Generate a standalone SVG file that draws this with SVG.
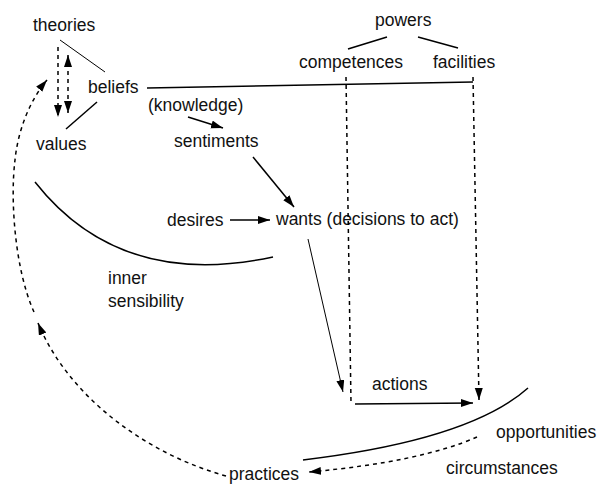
<svg xmlns="http://www.w3.org/2000/svg" width="599" height="484" viewBox="0 0 599 484">
<defs>
<marker id="ah" markerUnits="userSpaceOnUse" markerWidth="13" markerHeight="9" refX="12" refY="4" orient="auto-start-reverse">
<path d="M0,0 L12,4 L0,8 z" fill="#000"/>
</marker>
<style>
text{font-family:"Liberation Sans",Arial,sans-serif;font-size:17.5px;fill:#111}
.l{fill:none;stroke:#000;stroke-width:1.5}
.t{fill:none;stroke:#000;stroke-width:1}
.d{fill:none;stroke:#000;stroke-width:1.5;stroke-dasharray:4 4}
.a{marker-end:url(#ah)}
</style>
</defs>
<rect width="599" height="484" fill="#fff"/>
<g id="theories"><text x="33" y="31">theories</text></g>
<g id="beliefs"><text x="88" y="93">beliefs</text></g>
<g id="values"><text x="36" y="150">values</text></g>
<g id="knowledge"><text x="148" y="111">(knowledge)</text></g>
<g id="sentiments"><text x="174" y="147">sentiments</text></g>
<g id="powers"><text x="375" y="26">powers</text></g>
<g id="competences"><text x="299" y="68">competences</text></g>
<g id="facilities"><text x="433" y="68">facilities</text></g>
<g id="desires"><text x="167" y="226">desires</text></g>
<g id="wants"><text x="276" y="225">wants (decisions to act)</text></g>
<g id="inner-sensibility"><text x="108" y="284">inner</text><text x="108" y="307">sensibility</text></g>
<g id="actions"><text x="372" y="390">actions</text></g>
<g id="opportunities"><text x="496" y="438">opportunities</text></g>
<g id="circumstances"><text x="446" y="474">circumstances</text></g>
<g id="practices"><text x="229" y="480">practices</text></g>
<g id="connectors">
<path class="t" d="M60,40 L105,72"/>
<path class="l" d="M97,102 L66,129"/>
<path class="d a" d="M58,47 L58,117"/>
<path class="d a" d="M68,55 L68,113" marker-start="url(#ah)"/>
<path class="l" d="M348,49 L387,37"/>
<path class="l" d="M418,37 L458,48"/>
<path class="l" d="M147,88 L473,82"/>
<path class="d" d="M346,77 L351,403"/>
<path class="d a" d="M473,77 L479,400"/>
<path class="l a" d="M188,117 L223,128"/>
<path class="l a" d="M253,157 L294,207"/>
<path class="l a" d="M230,220 L270,220"/>
<path class="t a" d="M308,239 L343,392"/>
<path class="l a" d="M355,404 L473,403"/>
<path class="l" d="M35,182 Q120,290 273,257"/>
<path class="l" d="M303,460 Q470,440 528,388"/>
<path class="d a" d="M477,437 Q420,462 309,472"/>
<path class="d a" d="M226,476 C150,455 70,400 38,323"/>
<path class="d a" d="M34,312 C15,270 10,200 15,160 C18,130 30,100 47,80"/>
</g>
</svg>
